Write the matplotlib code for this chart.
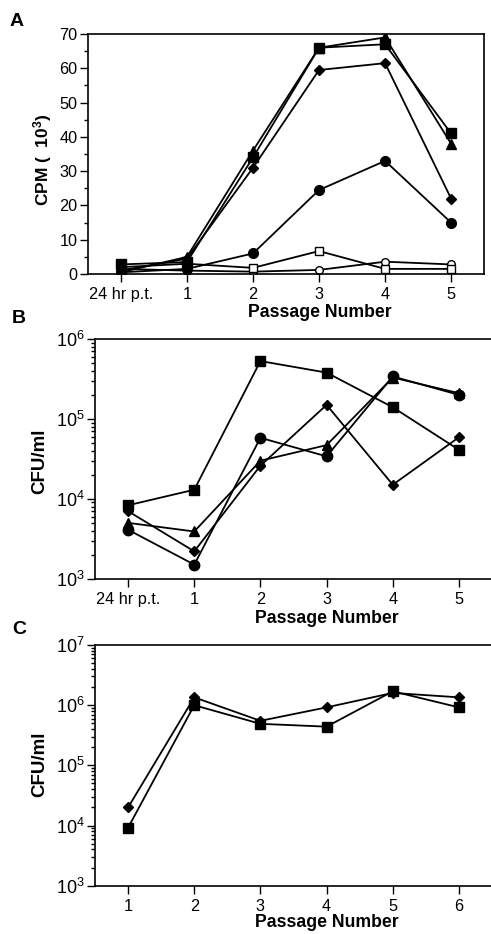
import matplotlib
matplotlib.use("Agg")
import matplotlib.pyplot as plt
from matplotlib.ticker import MultipleLocator, LogLocator, NullFormatter

plt.rcParams['font.family'] = ['Liberation Sans', 'DejaVu Sans']
plt.rcParams['mathtext.default'] = 'regular'

# panel A: CPM (x10^3)
a_labels = ['24 hr p.t.', '1', '2', '3', '4', '5']
a_sq = [2.8, 3.5, 34, 66, 67, 41]
a_tri = [0.5, 5, 36, 66, 69, 38]
a_dia = [1.0, 4.5, 31, 59.5, 61.5, 22]
a_circ = [0.5, 1.5, 6, 24.5, 33, 15]
a_osq = [2.0, 3.0, 1.8, 6.7, 1.5, 1.5]
a_ocirc = [1.5, 1.0, 0.7, 1.2, 3.6, 2.8]

# panel B: CFU/ml
b_labels = ['24 hr p.t.', '1', '2', '3', '4', '5']
b_sq = [8.3e3, 1.3e4, 5.3e5, 3.8e5, 1.4e5, 4.1e4]
b_circ = [4.1e3, 1.5e3, 5.8e4, 3.4e4, 3.4e5, 2.0e5]
b_tri = [5.0e3, 3.9e3, 3.0e4, 4.7e4, 3.3e5, 2.1e5]
b_dia = [7.0e3, 2.2e3, 2.6e4, 1.5e5, 1.5e4, 5.9e4]

# panel C: CFU/ml
c_labels = ['1', '2', '3', '4', '5', '6']
c_dia = [2.0e4, 1.35e6, 5.5e5, 9.2e5, 1.6e6, 1.35e6]
c_sq = [9.2e3, 1.0e6, 4.9e5, 4.4e5, 1.7e6, 9.2e5]

fig = plt.figure(figsize=(4.91, 9.34), dpi=100)

lw = 1.3
fs = 11.7


def style(ax, labels, ylabel, ylfs, ylx, yly, xly, yfs=fs):
    ax.set_xticks(range(len(labels)))
    ax.set_xticklabels(labels)
    ax.set_xlim(-0.5, len(labels) - 0.5)
    ax.tick_params(axis='both', which='major', direction='out', length=5.5, width=1, labelsize=fs)
    ax.tick_params(axis='x', which='major', pad=4)
    ax.tick_params(axis='y', which='major', pad=2, labelsize=yfs)
    ax.tick_params(axis='y', which='minor', direction='out', length=3, width=1)
    ax.tick_params(axis='x', which='minor', bottom=False)
    ax.set_xlabel('Passage Number', fontsize=12.7, fontweight='bold')
    ax.xaxis.set_label_coords(0.585, xly)
    ax.set_ylabel(ylabel, fontsize=ylfs, fontweight='bold')
    ax.yaxis.set_label_coords(ylx, yly)
    ax.yaxis.label.set_va('center')
    for s in ax.spines.values():
        s.set_linewidth(1.2)


# ---- A
ax = fig.add_axes([0.179, 0.7066, 0.807, 0.257])
x = range(len(a_labels))
ax.plot(x, a_ocirc, '-o', color='black', mfc='white', ms=5.5, lw=lw, mew=1)
ax.plot(x, a_osq, '-s', color='black', mfc='white', ms=5.5, lw=lw, mew=1)
ax.plot(x, a_circ, '-o', color='black', ms=7, lw=lw)
ax.plot(x, a_dia, '-D', color='black', ms=5, lw=lw)
ax.plot(x, a_tri, '-^', color='black', ms=7, lw=lw)
ax.plot(x, a_sq, '-s', color='black', ms=7, lw=lw)
ax.set_ylim(0, 70)
ax.yaxis.set_major_locator(MultipleLocator(10))
ax.yaxis.set_minor_locator(MultipleLocator(5))
style(ax, a_labels, 'CPM (  10$^3$)', 12.5, -0.114, 0.475, -0.125)
fig.text(0.02, 0.9775, 'A', fontsize=14, fontweight='bold', va='center')

# ---- B
ax = fig.add_axes([0.1935, 0.3804, 0.8086, 0.2566])
x = range(len(b_labels))
ax.plot(x, b_tri, '-^', color='black', ms=7, lw=lw)
ax.plot(x, b_dia, '-D', color='black', ms=5, lw=lw)
ax.plot(x, b_circ, '-o', color='black', ms=7.5, lw=lw)
ax.plot(x, b_sq, '-s', color='black', ms=7.5, lw=lw)
ax.set_yscale('log')
ax.set_ylim(1e3, 1e6)
ax.yaxis.set_major_locator(LogLocator(base=10))
ax.yaxis.set_minor_locator(LogLocator(base=10, subs=range(2, 10)))
ax.yaxis.set_minor_formatter(NullFormatter())
style(ax, b_labels, 'CFU/ml', 13.5, -0.139, 0.49, -0.13, yfs=13)
fig.text(0.024, 0.6585, 'B', fontsize=14, fontweight='bold', va='center')

# ---- C
ax = fig.add_axes([0.1935, 0.0517, 0.8086, 0.2577])
x = range(len(c_labels))
ax.plot(x, c_dia, '-D', color='black', ms=5, lw=lw)
ax.plot(x, c_sq, '-s', color='black', ms=7.5, lw=lw)
ax.set_yscale('log')
ax.set_ylim(1e3, 1e7)
ax.yaxis.set_major_locator(LogLocator(base=10))
ax.yaxis.set_minor_locator(LogLocator(base=10, subs=range(2, 10)))
ax.yaxis.set_minor_formatter(NullFormatter())
style(ax, c_labels, 'CFU/ml', 13.5, -0.139, 0.506, -0.118, yfs=13)
fig.text(0.024, 0.326, 'C', fontsize=14, fontweight='bold', va='center')

fig.savefig('out.png', dpi=100)
